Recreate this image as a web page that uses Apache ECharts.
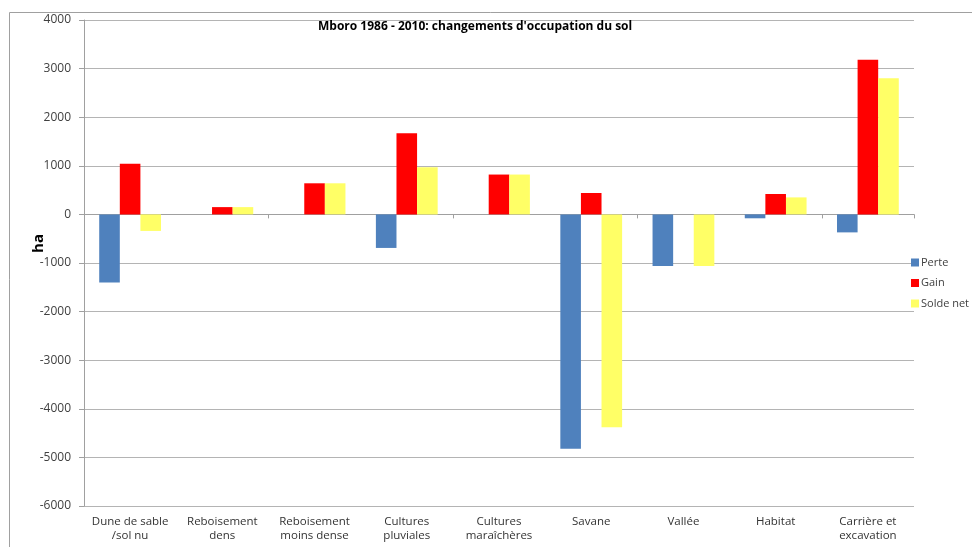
<!DOCTYPE html>
<html>
<head>
<meta charset="utf-8">
<script src="https://cdn.jsdelivr.net/npm/echarts@6/dist/echarts.min.js"></script>
<style>
  html, body { margin: 0; padding: 0; background: #fff; }
  #chart { width: 972px; height: 547px; }
</style>
</head>
<body>
<div id="chart"></div>
<script>
// Land-use change categories (two-line labels)
const categories = [
  'Dune de sable\n/sol nu',
  'Reboisement\ndens',
  'Reboisement\nmoins dense',
  'Cultures\npluviales',
  'Cultures\nmaraîchères',
  'Savane',
  'Vallée',
  'Habitat',
  'Carrière et\nexcavation'
];

// Values in hectares
const perte     = [-1400,    0,   0,  -690,   0, -4820, -1060,  -80, -370];
const gain      = [ 1040,  150, 640,  1670, 820,   440,     0,  420, 3180];
const soldeNet  = [ -340,  150, 640,   970, 820, -4380, -1060,  350, 2800];

const yTicks = { min: -6000, max: 4000, step: 1000 };

const fontFamily = '"Open Sans", "Noto Sans", sans-serif';
const labelColor = '#404040';
const gridColor = '#b4b4b4';
const axisColor = '#a0a0a0';

const chart = echarts.init(document.getElementById('chart'), null, { renderer: 'canvas' });

chart.setOption({
  animation: false,
  backgroundColor: '#fff',
  title: {
    text: "Mboro 1986 - 2010: changements d'occupation du sol",
    left: 313,
    top: 16,
    textStyle: { fontFamily, fontSize: 12, fontWeight: 'bold', color: '#000' }
  },
  legend: {
    orient: 'vertical',
    left: 906,
    top: 252,
    itemWidth: 8,
    itemHeight: 8,
    itemGap: 9.5,
    icon: 'rect',
    textStyle: { fontFamily, fontSize: 11, color: labelColor, padding: [0, 0, 0, -3] },
    data: ['Perte', 'Gain', 'Solde net']
  },
  grid: { left: 84, right: 58, top: 20, bottom: 41, containLabel: false },
  xAxis: [
    {
      // bottom labels
      type: 'category',
      data: categories,
      position: 'bottom',
      axisLine: { show: false, onZero: false },
      axisTick: { show: false },
      axisLabel: {
        fontFamily, fontSize: 11.5, color: '#333', lineHeight: 14, margin: 9,
        interval: 0
      }
    },
    {
      // zero baseline with category ticks
      type: 'category',
      data: categories,
      position: 'bottom',
      axisLine: { show: true, onZero: true, lineStyle: { color: axisColor, width: 1 } },
      axisTick: { show: true, length: 4, alignWithLabel: false, lineStyle: { color: axisColor } },
      axisLabel: { show: false }
    }
  ],
  yAxis: {
    type: 'value',
    min: yTicks.min,
    max: yTicks.max,
    interval: yTicks.step,
    axisLine: { show: true, lineStyle: { color: axisColor } },
    axisTick: { show: true, length: 5, lineStyle: { color: axisColor } },
    axisLabel: {
      fontFamily, fontSize: 12, color: labelColor, margin: 13,
      formatter: (v) => String(v)
    },
    splitLine: { show: true, lineStyle: { color: gridColor, width: 1 } }
  },
  graphic: [
    {
      type: 'text',
      left: 31,
      top: 234,
      rotation: Math.PI / 2,
      style: { text: 'ha', fontFamily, fontSize: 15, fontWeight: 'bold', fill: '#000' }
    },
    {
      type: 'line',
      shape: { x1: 9.5, y1: 12.5, x2: 972, y2: 12.5 },
      style: { stroke: axisColor, lineWidth: 1 }
    },
    {
      type: 'line',
      shape: { x1: 9.5, y1: 12.5, x2: 9.5, y2: 547 },
      style: { stroke: axisColor, lineWidth: 1 }
    }
  ],
  series: [
    {
      name: 'Perte', type: 'bar', data: perte, xAxisIndex: 0,
      barGap: '0%', barCategoryGap: '33%',
      itemStyle: { color: '#4F81BD' }
    },
    {
      name: 'Gain', type: 'bar', data: gain, xAxisIndex: 0,
      barGap: '0%', barCategoryGap: '33%',
      itemStyle: { color: '#FF0000' }
    },
    {
      name: 'Solde net', type: 'bar', data: soldeNet, xAxisIndex: 0,
      barGap: '0%', barCategoryGap: '33%',
      itemStyle: { color: '#FFFF66' }
    }
  ]
});
</script>
</body>
</html>
